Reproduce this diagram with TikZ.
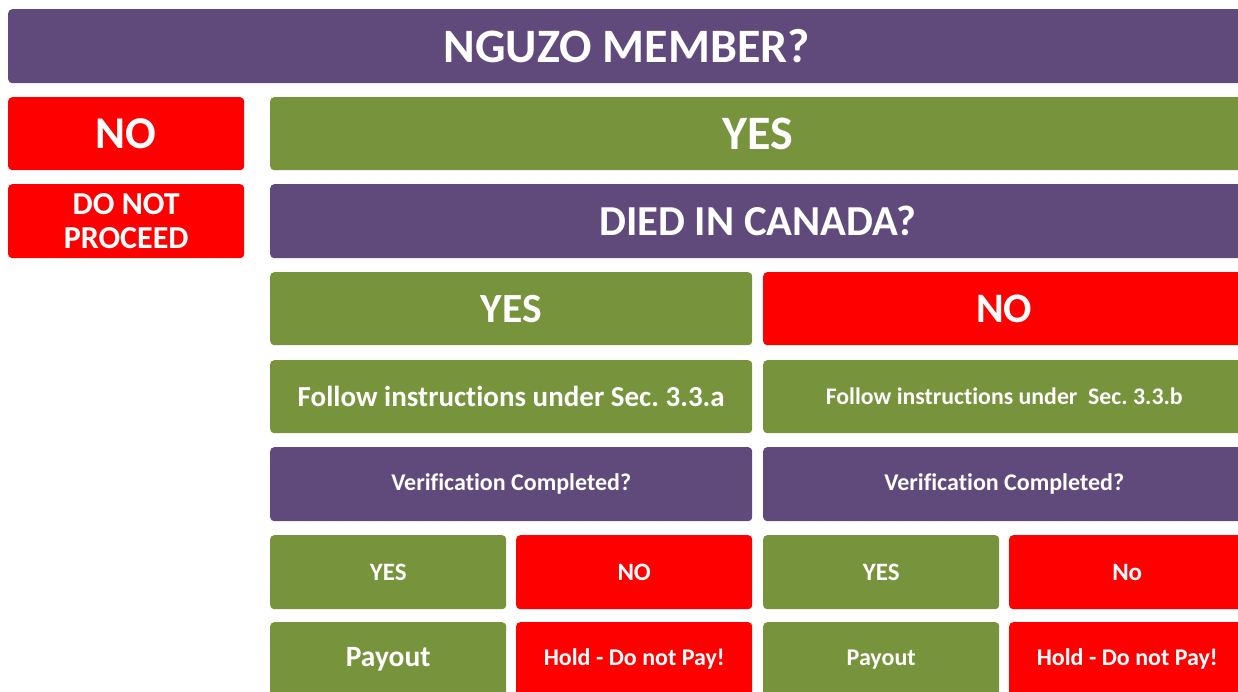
\documentclass[tikz,border=0pt]{standalone}
\usepackage{fontspec}
\setmainfont{Carlito}[Ligatures=NoCommon]
\frenchspacing
\definecolor{plum}{HTML}{604A7B}
\definecolor{olive}{HTML}{77933C}
\definecolor{alarm}{HTML}{FF0000}
\tikzset{
  cell/.style={anchor=north west, inner sep=0pt, rounded corners=4pt,
    text=white, font=\bfseries, align=center},
  qbox/.style={cell, fill=plum},
  okbox/.style={cell, fill=olive},
  stopbox/.style={cell, fill=alarm},
}
% \cellnode{style}{name}{x1}{y1}{x2}{y2}{font size}{text}
\newcommand\cellnode[8]{%
  \pgfmathsetmacro\cw{#5-#3}\pgfmathsetmacro\ch{#6-#4}%
  \pgfmathsetmacro\bs{#7*1.2}%
  \node[#1, minimum width=\cw pt, minimum height=\ch pt,
        font=\fontsize{#7}{\bs}\selectfont\bfseries] (#2) at (#3,#4) {#8};}
\begin{document}
\begin{tikzpicture}[x=1pt,y=-1pt]
\useasboundingbox (0,0) rectangle (1238,692);
\clip (0,0) rectangle (1238,692);
% question banner
\cellnode{qbox}{member}{8}{9}{1245}{83}{48}{NGUZO MEMBER?}
% first answer
\cellnode{stopbox}{memno}{8}{97}{244}{170}{45.5}{NO}
\cellnode{okbox}{memyes}{270}{97}{1245}{170}{48}{YES}
\node[stopbox, minimum width=236pt, minimum height=74pt,
      font=\fontsize{32}{34}\selectfont\bfseries] (stop) at (8,184) {DO NOT\\PROCEED};
\cellnode{qbox}{canada}{270}{184}{1245}{258}{42.7}{DIED IN CANADA?}
% place of death
\cellnode{okbox}{cayes}{270}{272}{752}{345}{41.5}{YES}
\cellnode{stopbox}{cano}{763}{272}{1245}{345}{42}{NO}
\cellnode{okbox}{secA}{270}{360}{752}{433}{29}{Follow instructions under Sec. 3.3.a}
\cellnode{okbox}{secB}{763}{360}{1245}{433}{23.8}{Follow instructions under\ \ Sec. 3.3.b}
\cellnode{qbox}{verA}{270}{447}{752}{521}{24}{Verification Completed?}
\cellnode{qbox}{verB}{763}{447}{1245}{521}{24}{Verification Completed?}
% verification outcome
\cellnode{okbox}{vAyes}{270}{535}{506}{609}{25}{YES}
\cellnode{stopbox}{vAno}{516}{535}{752}{609}{25}{NO}
\cellnode{okbox}{vByes}{763}{535}{999}{609}{25}{YES}
\cellnode{stopbox}{vBno}{1009}{535}{1245}{609}{25}{No}
% action
\cellnode{okbox}{payA}{270}{622}{506}{696}{29.5}{Payout}
\cellnode{stopbox}{holdA}{516}{622}{752}{696}{24}{Hold - Do not Pay!}
\cellnode{okbox}{payB}{763}{622}{999}{696}{24}{Payout}
\cellnode{stopbox}{holdB}{1009}{622}{1245}{696}{24}{Hold - Do not Pay!}
\end{tikzpicture}
\end{document}
